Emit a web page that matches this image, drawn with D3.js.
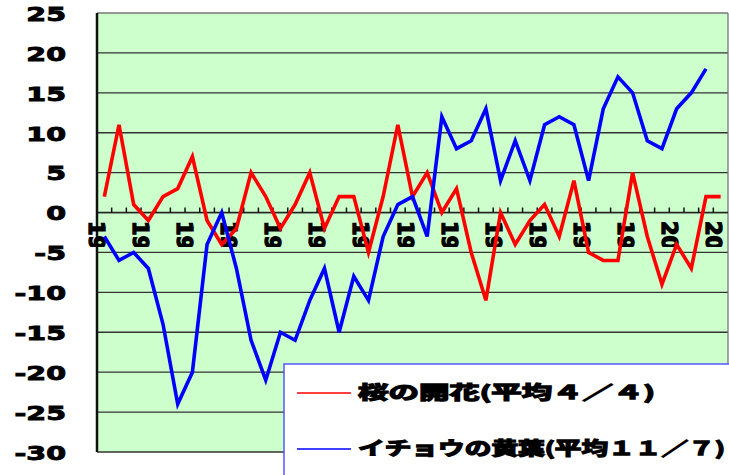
<!DOCTYPE html>
<html><head><meta charset="utf-8">
<script src="https://cdn.jsdelivr.net/npm/d3@7"></script>
<style>body{margin:0;background:#fff}svg{display:block}</style>
</head><body><svg id="c" width="729" height="475"></svg>
<script>
const years = [1961,1962,1963,1964,1965,1966,1967,1968,1969,1970,1971,1972,1973,1974,1975,1976,1977,1978,1979,1980,1981,1982,1983,1984,1985,1986,1987,1988,1989,1990,1991,1992,1993,1994,1995,1996,1997,1998,1999,2000,2001,2002,2003];
const sakura = [2,11,1,-1,2,3,7,-1,-4,-2,5,2,-2,1,5,-2,2,2,-5,2,11,2,5,0,3,-5,-11,0,-4,-1,1,-3,4,-5,-6,-6,5,-3,-9,-4,-7,2,2];
const ginkgo = [-3,-6,-5,-7,-14,-24,-20,-4,0,-7,-16,-21,-15,-16,-11,-7,-15,-8,-11,-3,1,2,-3,12,8,9,13,4,9,4,11,12,11,4,13,17,15,9,8,13,15,18];
const yTicks = [25,20,15,10,5,0,-5,-10,-15,-20,-25,-30];
const seriesNames = ["桜の開花(平均４／４)","イチョウの黄葉(平均１１／７)"];
const seriesColors = ["#ff0000","#0000ff"];

const svg = d3.select("#c");
const L=97,R=728,T=13,B=452;
const x = d3.scaleBand().domain(years).range([L,R]);
const y = d3.scaleLinear().domain([-30,25]).range([B,T]);
const cx = d => x(d)+x.bandwidth()/2;

svg.append("rect").attr("x",L).attr("y",T).attr("width",R-L).attr("height",B-T).attr("fill","#ccffcc");

// gridlines
svg.append("g").selectAll("line").data(yTicks).join("line")
  .attr("x1",L).attr("x2",R).attr("y1",d=>y(d)).attr("y2",d=>y(d))
  .attr("stroke",d=>d===25?"#777":"#333").attr("stroke-width",1.3);
svg.append("line").attr("x1",R).attr("x2",R).attr("y1",T).attr("y2",B).attr("stroke","#777").attr("stroke-width",1.3);

// x-axis at zero
svg.append("line").attr("x1",L).attr("x2",R).attr("y1",y(0)).attr("y2",y(0)).attr("stroke","#222").attr("stroke-width",1.6);
svg.append("g").selectAll("line").data(years.slice(1)).join("line")
  .attr("x1",d=>x(d)).attr("x2",d=>x(d)).attr("y1",y(0)-5).attr("y2",y(0))
  .attr("stroke","#111").attr("stroke-width",1.5);

// left axis
svg.append("line").attr("x1",L).attr("x2",L).attr("y1",T).attr("y2",B).attr("stroke","#111").attr("stroke-width",2.5);

// y labels
const yl = svg.append("g").selectAll("g").data(yTicks).join("g")
  .attr("transform",d=>`translate(66,${y(d)+1}) scale(1.5,1)`);
yl.append("text").attr("text-anchor","end").attr("dy","0.36em")
  .attr("font-family","'DejaVu Sans',sans-serif").attr("font-weight","bold").attr("font-size",19)
  .attr("fill","#000").attr("stroke","#000").attr("stroke-width",0.9)
  .text(d=>d);

// x labels (rotated, clipped as in original)
svg.append("clipPath").attr("id","xc").append("rect").attr("x",L-12).attr("y",220).attr("width",R-L+12).attr("height",27);
const labYears = years.filter((d,i)=>i%3===0);
svg.append("g").attr("clip-path","url(#xc)").selectAll("text").data(labYears).join("text")
  .attr("transform",d=>`translate(${cx(d)-8},221) rotate(90)`)
  .attr("dominant-baseline","central")
  .attr("font-family","'DejaVu Sans',sans-serif").attr("font-weight","bold").attr("font-size",21)
  .attr("fill","#000").attr("stroke","#000").attr("stroke-width",1.4)
  .text(d=>String(d));

// lines
const line = d3.line().x((d,i)=>cx(years[i])).y(d=>y(d));
svg.append("path").datum(sakura).attr("d",line).attr("fill","none").attr("stroke",seriesColors[0]).attr("stroke-width",3.6).attr("stroke-linejoin","miter");
svg.append("path").datum(ginkgo).attr("d",line).attr("fill","none").attr("stroke",seriesColors[1]).attr("stroke-width",3.6).attr("stroke-linejoin","miter");

// legend
svg.append("rect").attr("x",284).attr("y",364).attr("width",446).attr("height",120)
  .attr("fill","#fff").attr("stroke","#5555ff").attr("stroke-width",1.5);
const lg = svg.append("g").selectAll("g").data(seriesNames).join("g")
  .attr("transform",(d,i)=>`translate(0,${[393,449][i]})`);
lg.append("line").attr("x1",297).attr("x2",351).attr("stroke",(d,i)=>seriesColors[i]).attr("stroke-width",1.5);
lg.append("text").attr("x",358).attr("dy","0.36em")
  .attr("font-family","'Noto Sans CJK JP',sans-serif").attr("font-weight","bold").attr("font-size",18)
  .attr("fill","#000").attr("stroke","#000").attr("stroke-width",1.3)
  .attr("textLength",(d,i)=>[297,367][i]).attr("lengthAdjust","spacingAndGlyphs")
  .text(d=>d);
</script></body></html>
